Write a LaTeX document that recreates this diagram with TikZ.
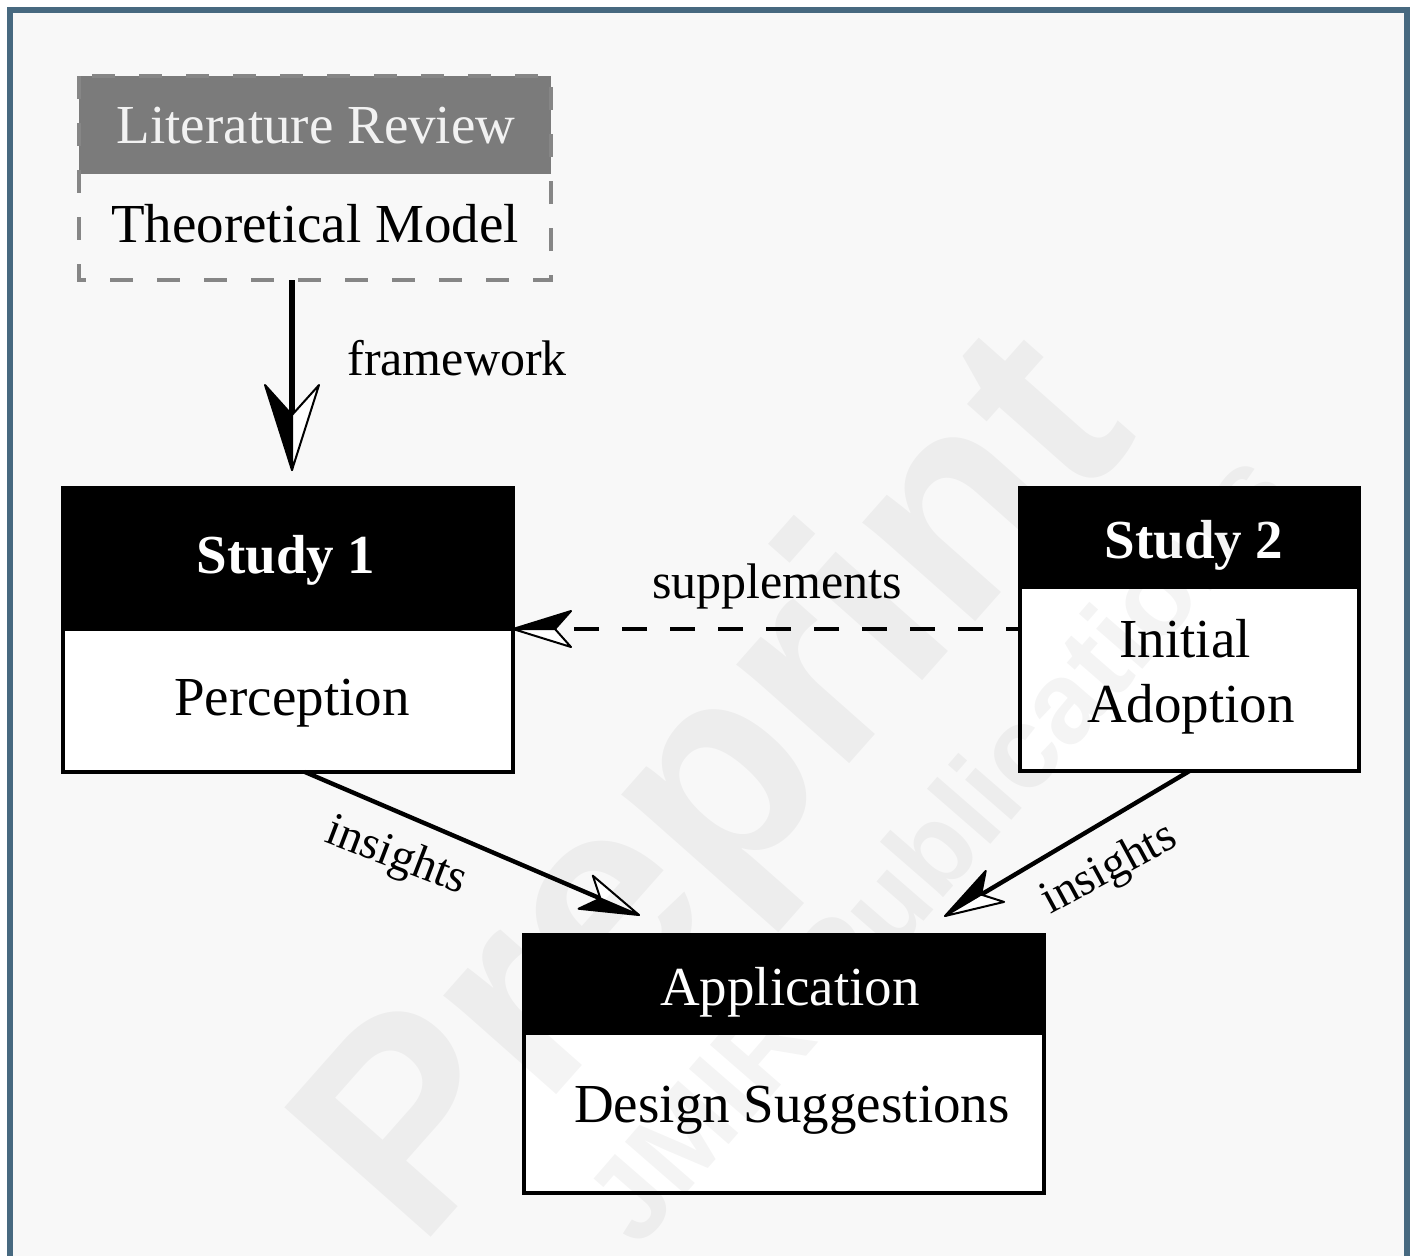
\documentclass[tikz,border=0pt]{standalone}
\usepackage{fontspec}
\setmainfont{Liberation Serif}
\newfontfamily\wmfont{Liberation Sans}
\usetikzlibrary{calc,arrows.meta}
\definecolor{frameblue}{HTML}{476980}
\definecolor{bggray}{HTML}{F8F8F8}
\definecolor{litgray}{HTML}{7B7B7B}
\definecolor{dashgray}{HTML}{868686}

\pgfdeclarearrow{
  name = HalfS,
  setup code = {
    \pgfarrowssettipend{0pt}
    \pgfarrowssetlineend{-19pt}
    \pgfarrowssetbackend{-29pt}
    \pgfarrowshullpoint{0pt}{0pt}
    \pgfarrowsupperhullpoint{-29pt}{9pt}
  },
  drawing code = {
    \pgfsetdash{}{0pt}
    \pgfsetlinewidth{1pt}
    \pgfsetroundjoin
    \pgfsetfillcolor{black}
    \pgfpathmoveto{\pgfqpoint{0pt}{0pt}}
    \pgfpathlineto{\pgfqpoint{-29pt}{-9pt}}
    \pgfpathlineto{\pgfqpoint{-21pt}{0pt}}
    \pgfpathclose
    \pgfusepathqfillstroke
    \pgfsetfillcolor{white}
    \pgfpathmoveto{\pgfqpoint{0pt}{0pt}}
    \pgfpathlineto{\pgfqpoint{-29pt}{9pt}}
    \pgfpathlineto{\pgfqpoint{-21pt}{0pt}}
    \pgfpathclose
    \pgfusepathqfillstroke
  }
}
\pgfdeclarearrow{
  name = HalfL,
  setup code = {
    \pgfarrowssettipend{0pt}
    \pgfarrowssetlineend{-25pt}
    \pgfarrowssetbackend{-42.5pt}
    \pgfarrowshullpoint{0pt}{0pt}
    \pgfarrowsupperhullpoint{-42.5pt}{13.5pt}
  },
  drawing code = {
    \pgfsetdash{}{0pt}
    \pgfsetlinewidth{1pt}
    \pgfsetroundjoin
    \pgfsetfillcolor{black}
    \pgfpathmoveto{\pgfqpoint{0pt}{0pt}}
    \pgfpathlineto{\pgfqpoint{-42.5pt}{-13.5pt}}
    \pgfpathlineto{\pgfqpoint{-27.5pt}{0pt}}
    \pgfpathclose
    \pgfusepathqfillstroke
    \pgfsetfillcolor{white}
    \pgfpathmoveto{\pgfqpoint{0pt}{0pt}}
    \pgfpathlineto{\pgfqpoint{-42.5pt}{13.5pt}}
    \pgfpathlineto{\pgfqpoint{-27.5pt}{0pt}}
    \pgfpathclose
    \pgfusepathqfillstroke
  }
}

\begin{document}
\begin{tikzpicture}[x=0.5pt,y=-0.5pt,
  hdrbox/.style={fill=black, draw=black, line width=1.6pt, inner sep=0pt, outer sep=0pt},
  bodybox/.style={fill=white, draw=black, line width=1.6pt, inner sep=0pt, outer sep=0pt},
  boxtxt/.style={font=\fontsize{27.5}{33}\selectfont, inner sep=0pt, anchor=base},
  boldtxt/.style={font=\fontsize{27.5}{33}\selectfont\bfseries, text=white, inner sep=0pt, anchor=base},
  lbl/.style={font=\fontsize{25}{30}\selectfont, inner sep=0pt},
  conn/.style={draw=black, line width=2.2pt},
  wm/.style={text=black, text opacity=0.045, inner sep=0pt}]
\clip (0,0) rectangle (1414,1255);
\fill[white] (0,0) rectangle (1414,1255);
\fill[bggray] (9.5,10) rectangle (1407,1300);
\draw[frameblue, line width=3pt] (9.5,1300) -- (9.5,10) -- (1407,10) -- (1407,1300);

% Literature review box
\node[fill=litgray, inner sep=0pt, outer sep=0pt, minimum width=236pt, minimum height=49pt] (lith) at (315,125) {};
\node[inner sep=0pt, outer sep=0pt, minimum width=236pt, minimum height=53pt] (litb) at (315,227) {};
\draw[dashgray, line width=2.2pt, dash pattern=on 11.5pt off 12pt] (lith.north west) rectangle (litb.south east);
\node[boxtxt, text=white!95!black] (litht) at (316,143) {Literature Review};
\node[boxtxt] (litbt) at (315,242) {Theoretical Model};

% Study 1
\node[hdrbox, minimum width=225pt, minimum height=70.5pt] (s1h) at (288,558.5) {};
\node[bodybox, minimum width=225pt, minimum height=71.5pt] (s1b) at (288,700.5) {};
\node[boldtxt] (s1ht) at (286,573) {Study 1};
\node[boxtxt] (s1bt) at (292,715) {Perception};

% Study 2
\node[hdrbox, minimum width=169.5pt, minimum height=49.5pt] (s2h) at (1189.5,537.5) {};
\node[bodybox, minimum width=169.5pt, minimum height=92pt] (s2b) at (1189.5,679) {};
\node[boldtxt] (s2ht) at (1194,558) {Study 2};
\node[boxtxt] (s2bt1) at (1185,657) {Initial};
\node[boxtxt] (s2bt2) at (1191,722) {Adoption};

% Application
\node[hdrbox, minimum width=260pt, minimum height=49pt] (apph) at (784,984) {};
\node[bodybox, minimum width=260pt, minimum height=80pt] (appb) at (784,1113) {};
\node[boxtxt, text=white] (appht) at (790,1005) {Application};
\node[boxtxt] (appbt) at (792,1122) {Design Suggestions};

% connectors
\coordinate (fwx) at (292,0);
\draw[conn, line width=2.9pt, -HalfL] (litb.south -| fwx) -- ($(s1h.north -| fwx)+(0,-18)$);
\draw[conn, line width=2.4pt, dash pattern=on 12.5pt off 11.5pt, dash phase=5.5pt, -HalfS] (s2b.west |- s1b.north) -- (s1b.north east);
\draw[conn, -HalfS] ($(s1b.south)+(17,0)$) -- ($(apph.north west)+(115,-20)$);
\draw[conn, -HalfS] (s2b.south) -- ($(apph.north east)+(-99,-19)$);

% labels
\node[lbl, anchor=base west] (lfw) at (347,375) {framework};
\node[lbl, anchor=base] (lsup) at (777,598) {supplements};
\node[lbl, font=\fontsize{23.5}{28}\selectfont, anchor=base, rotate=-21] (lins1) at (392,868) {insights};
\node[lbl, font=\fontsize{23.5}{28}\selectfont, anchor=base, rotate=28.5] (lins2) at (1115,880) {insights};

% watermark
\node[wm, font=\wmfont\bfseries\fontsize{142}{142}\selectfont, rotate=48.5] (wmA) at (724,795) {Preprint};
\node[wm, font=\wmfont\bfseries\fontsize{58}{58}\selectfont, rotate=49] (wmB) at (935,845) {JMIR Publications};
\end{tikzpicture}
\end{document}
